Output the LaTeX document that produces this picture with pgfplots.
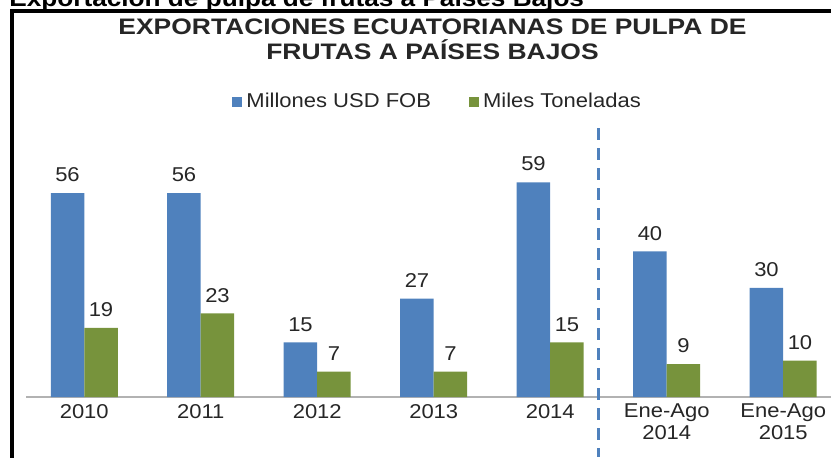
\documentclass[border=0pt]{standalone}
\usepackage{fontspec}
\setmainfont{Liberation Sans}[FakeStretch=1.1]
\newfontfamily\titlefont{Liberation Sans}[FakeStretch=1.18]
\usepackage{pgfplots}
\pgfplotsset{compat=1.18}
\definecolor{cblue}{HTML}{4F81BD}
\definecolor{cgreen}{HTML}{77933C}
\definecolor{txt}{HTML}{262626}
\begin{document}
\begin{tikzpicture}
\useasboundingbox (0,0) rectangle (415.5pt,228.5pt);
\clip (0,0) rectangle (415.5pt,228.5pt);
\node[anchor=base west, font=\bfseries\fontsize{11.9}{13}\selectfont, inner sep=0] at (4.5pt,225.3pt) {Exportación de pulpa de frutas a Países Bajos};
\draw[line width=2pt] (6pt,-2pt) -- (6pt,222.85pt) -- (420pt,222.85pt);
\node[anchor=base, font=\titlefont\bfseries\fontsize{11.2}{13}\selectfont, text=txt, inner sep=0] at (216.25pt,211.3pt) {EXPORTACIONES ECUATORIANAS DE PULPA DE};
\node[anchor=base, font=\titlefont\bfseries\fontsize{11.2}{13}\selectfont, text=txt, inner sep=0] at (216.25pt,198.8pt) {FRUTAS A PAÍSES BAJOS};
\begin{axis}[
  /pgf/number format/assume math mode=true,
  ybar=0pt, bar width=16.75pt,
  scale only axis, width=407.75pt, height=109.2pt,
  at={(13pt,30pt)}, anchor=south west,
  xmin=-0.5, xmax=6.5, ymin=0, ymax=60,
  axis x line*=bottom, axis y line=none,
  x axis line style={draw=gray!60, line width=0.6pt, -},
  xtick={0,...,6},
  xticklabels={2010,2011,2012,2013,2014,{Ene-Ago\\2014},{Ene-Ago\\2015}},
  xticklabel style={align=center, font=\fontsize{10}{11}\selectfont, text=txt},
  major tick length=0pt,
  clip=false,
  nodes near coords,
  every node near coord/.append style={font=\fontsize{10}{11}\selectfont, text=txt, yshift=2pt},
  legend columns=2,
  legend style={at={(0.506,1.351)}, anchor=center, draw=none, fill=none, font=\fontsize{10}{11}\selectfont, text=txt,
    /tikz/every even column/.append style={column sep=17pt}},
  legend image code/.code={\fill[#1] (0pt,-2.5pt) rectangle (5pt,2.5pt);},
]
\addplot[fill=cblue, draw=none] coordinates {(0,56) (1,56) (2,15) (3,27) (4,59) (5,40) (6,30)};
\addplot[fill=cgreen, draw=none] coordinates {(0,19) (1,23) (2,7) (3,7) (4,15) (5,9) (6,10)};
\legend{Millones USD FOB, Miles Toneladas}
\end{axis}
\draw[cblue, line width=1.5pt, dash pattern=on 6pt off 4pt] (299pt,164.5pt) -- (299pt,0pt);
\end{tikzpicture}
\end{document}
